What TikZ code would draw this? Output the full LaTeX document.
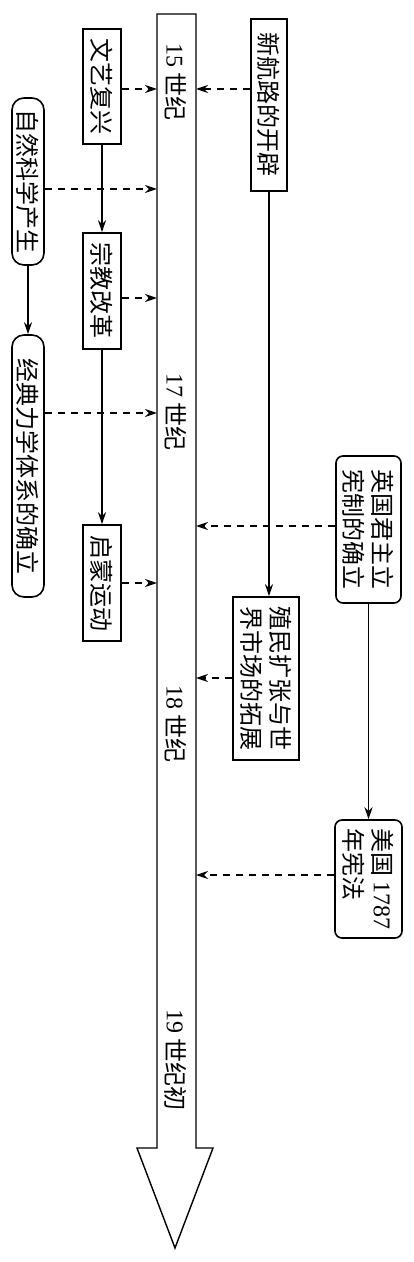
\documentclass[tikz,border=0pt]{standalone}
\usepackage{fontspec}
\setmainfont{Liberation Serif}
\newfontfamily\cjk{Noto Sans CJK SC}
\usetikzlibrary{arrows.meta}

\tikzset{
  box/.style={draw, rotate=-90, inner sep=0pt, align=left,
    font=\cjk\fontsize{12}{14.5}\selectfont},
  rbox/.style={box, rounded corners=6pt},
  era/.style={rotate=-90, inner sep=0pt, font=\cjk\fontsize{12}{14.5}\selectfont},
  link/.style={-{Stealth[length=6pt,width=4pt]}},
  hint/.style={link, dash pattern=on 3.5pt off 3pt},
}

\begin{document}
\begin{tikzpicture}[x=0.5pt, y=-0.5pt, line width=0.8pt]
    \useasboundingbox (0,0) rectangle (413,1262);
    % time line
    \draw[line width=0.7pt] (157,14) -- (196,14) -- (196,1148) -- (213,1148)
        -- (175,1248) -- (137,1148) -- (157,1148) -- cycle;
    \node[era] (c15) at (176,82) {{\rmfamily 15} 世纪};
    \node[era] (c17) at (176,412) {{\rmfamily 17} 世纪};
    \node[era] (c18) at (176,724) {{\rmfamily 18} 世纪};
    \node[era] (c19) at (176,1060) {{\rmfamily 19} 世纪初};
    \coordinate (a1) at (157,89);
    \coordinate (a2) at (157,189);
    \coordinate (a3) at (157,298);
    \coordinate (a4) at (157,413);
    \coordinate (a5) at (157,583);
    \coordinate (b1) at (196,89);
    \coordinate (b2) at (196,526);
    \coordinate (b3) at (196,678);
    \coordinate (b4) at (196,875);
    % events
    \node[box, minimum width=57.5pt, minimum height=19pt] (wyfx) at (102,86.5) {文艺复兴};
    \node[rbox, minimum width=83.5pt, minimum height=16pt] (zrkx) at (28,181.5) {自然科学产生};
    \node[box, minimum width=58pt, minimum height=19pt] (zjgg) at (102,291) {宗教改革};
    \node[rbox, minimum width=131pt, minimum height=16pt] (jdlx) at (28,466) {经典力学体系的确立};
    \node[box, minimum width=58pt, minimum height=19pt] (qmyd) at (102,583) {启蒙运动};
    \node[box, minimum width=86pt, minimum height=18pt] (xhl) at (269,105) {新航路的开辟};
    \node[box, minimum width=81.5pt, minimum height=33pt] (zmkz) at (266,678.5) {殖民扩张与世\\界市场的拓展};
    \node[rbox, rounded corners=3.5pt, minimum width=73.5pt, minimum height=32.5pt] (ygjz) at (368.5,529.5) {英国君主立\\宪制的确立};
    \node[rbox, rounded corners=3.5pt, minimum width=59pt, minimum height=33.5pt] (mg) at (368.5,879) {美国 {\rmfamily 1787}\\年宪法};
    % solid links
    \draw[link] (wyfx) -- (zjgg);
    \draw[link] (zjgg) -- (qmyd);
    \draw[link] (zrkx) -- (jdlx);
    \draw[link] (xhl.east) -- (xhl.east |- zmkz.west);
    \draw[link] (ygjz) -- (mg);
    % dashed links
    \draw[hint] (wyfx.north |- a1) -- (a1);
    \draw[hint] (zrkx.north |- a2) -- (a2);
    \draw[hint] (zjgg.north |- a3) -- (a3);
    \draw[hint] (jdlx.north |- a4) -- (a4);
    \draw[hint] (qmyd.north |- a5) -- (a5);
    \draw[hint] (xhl.south |- b1) -- (b1);
    \draw[hint] (ygjz.south |- b2) -- (b2);
    \draw[hint] (zmkz.south |- b3) -- (b3);
    \draw[hint] (mg.south |- b4) -- (b4);
\end{tikzpicture}
\end{document}
